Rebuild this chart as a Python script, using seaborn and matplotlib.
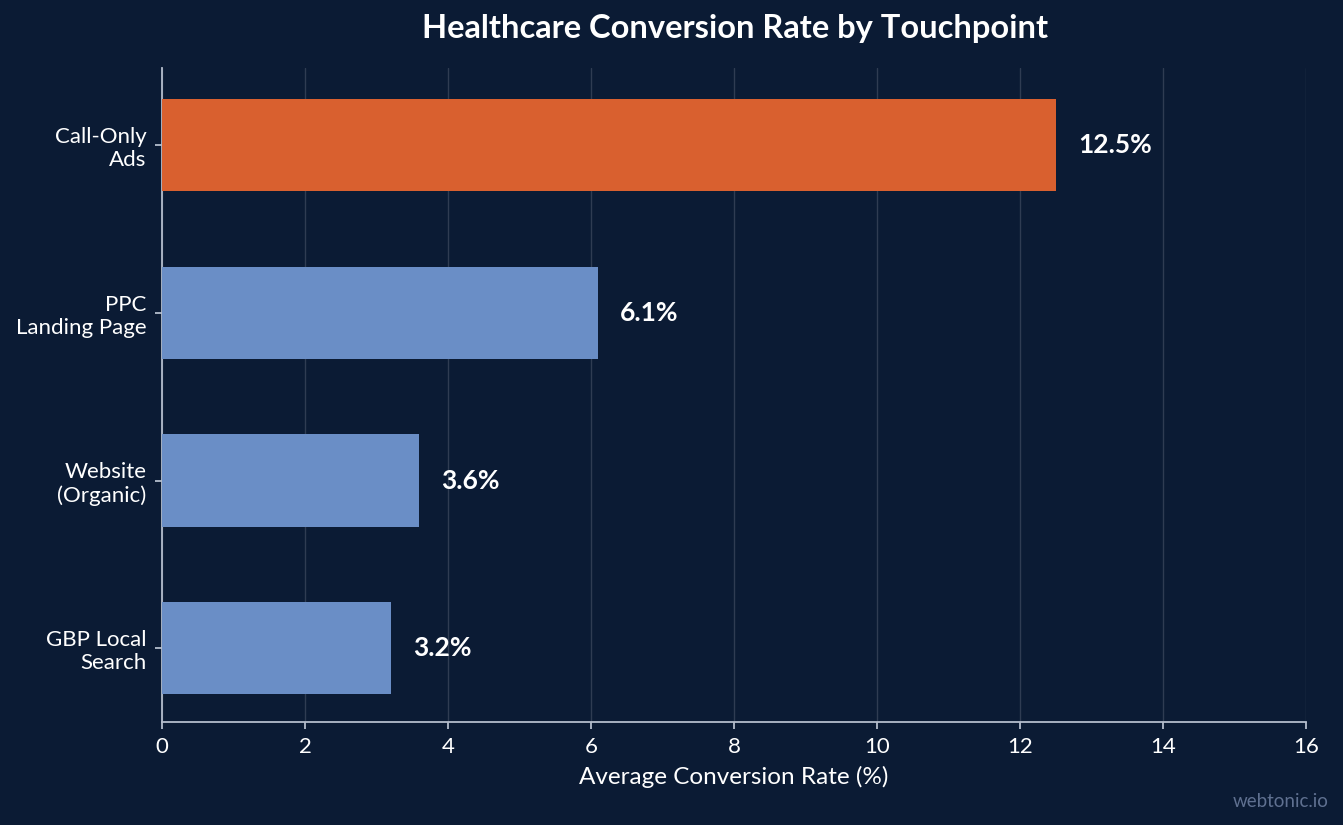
import matplotlib
matplotlib.use("Agg")
import matplotlib.pyplot as plt
import seaborn as sns
import pandas as pd

touchpoints = ["Call-Only\nAds", "PPC\nLanding Page", "Website\n(Organic)", "GBP Local\nSearch"]
rates = [12.5, 6.1, 3.6, 3.2]
bar_colors = ["#D9602F", "#6A8EC6", "#6A8EC6", "#6A8EC6"]
x_ticks = [0, 2, 4, 6, 8, 10, 12, 14, 16]

bg = "#0B1B34"
fg = "#FFFFFF"
spine_col = "#B4BDCC"

sns.set_theme(style="white")
plt.rcParams["font.family"] = ["Lato", "DejaVu Sans"]

df = pd.DataFrame({"touchpoint": touchpoints, "rate": rates})

fig = plt.figure(figsize=(13.43, 8.25), dpi=100, facecolor=bg)
ax = fig.add_axes([0.1206, 0.1248, 0.8518, 0.7928])
ax.set_facecolor(bg)

sns.barplot(data=df, x="rate", y="touchpoint", hue="touchpoint",
            palette=bar_colors, legend=False, width=0.55, ax=ax,
            saturation=1, linewidth=0, zorder=3)

for i, v in enumerate(rates):
    ax.annotate(f"{v}%", xy=(v, i), xytext=(16, 0), textcoords="offset points",
                va="center", ha="left", color=fg, fontsize=19, fontweight="bold")

ax.set_xlim(0, 16)
ax.set_ylim(3.44, -0.46)
ax.set_xticks(x_ticks)
ax.set_xticklabels([str(t) for t in x_ticks])
ax.xaxis.grid(True, color="#FFFFFF", alpha=0.15, linewidth=1, zorder=0)
ax.yaxis.grid(False)

for s in ["top", "right"]:
    ax.spines[s].set_visible(False)
for s in ["left", "bottom"]:
    ax.spines[s].set_color(spine_col)
    ax.spines[s].set_linewidth(1.3)

ax.tick_params(axis="both", colors=spine_col, labelcolor=fg, labelsize=16,
               length=5, width=1.3, bottom=True, left=True)
ax.tick_params(axis="x", pad=6)
ax.tick_params(axis="y", pad=6)

ax.set_ylabel("")
ax.set_xlabel("Average Conversion Rate (%)", color=fg, fontsize=17.5, labelpad=6)

fig.text(0.547, 0.966, "Healthcare Conversion Rate by Touchpoint", color=fg,
         fontsize=23.5, fontweight="bold", ha="center", va="center")
fig.text(0.989, 0.018, "webtonic.io", color="#5F7090", fontsize=13.5, ha="right", va="bottom")

fig.savefig("out.png", dpi=100, facecolor=bg)
